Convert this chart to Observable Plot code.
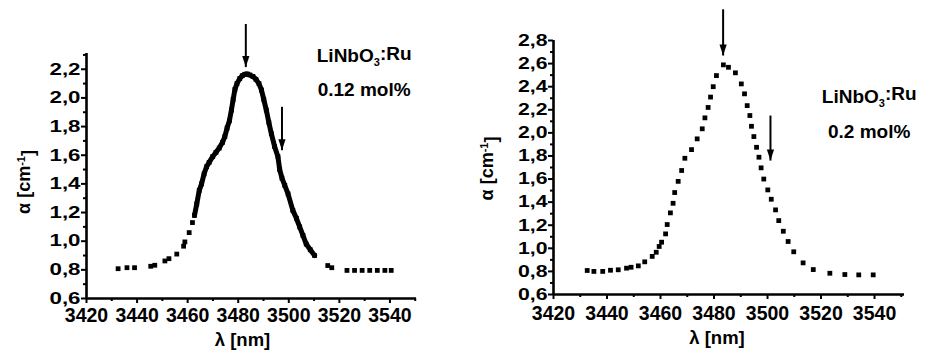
<!DOCTYPE html>
<html><head><meta charset="utf-8">
<script src="https://cdn.jsdelivr.net/npm/d3@7"></script>
<script src="https://cdn.jsdelivr.net/npm/@observablehq/plot@0.6"></script>
<style>
body{margin:0;background:#fff;}
#wrap{position:relative;width:926px;height:358px;overflow:hidden;background:#fff;}
#left{position:absolute;left:0;top:0;}
#right{position:absolute;left:463px;top:0;}
#wrap svg{overflow:visible;}
#wrap svg text{font-family:"Liberation Sans", Arial, sans-serif; font-weight:700; fill:#000;}
</style></head><body><div id="wrap"><div id="left"></div><div id="right"></div></div>
<script>
// ---------- data: left panel (0.12 mol%) ----------
const leftSparseX = [3432.5, 3436.0, 3439.0, 3445.4, 3447.0, 3451.0, 3452.6, 3455.7, 3458.4, 3458.9, 3460.6, 3461.9, 3515.4, 3517.0, 3523.0, 3526.0, 3529.0, 3532.0, 3535.0, 3538.0, 3540.5];
const leftSparseY = [0.808, 0.815, 0.815, 0.825, 0.832, 0.862, 0.878, 0.91, 0.965, 0.995, 1.06, 1.13, 0.83, 0.815, 0.796, 0.796, 0.796, 0.796, 0.796, 0.796, 0.796];
const leftTraceX = [3462.7, 3463.6, 3464.6, 3465.5, 3466.5, 3467.5, 3468.5, 3469.9, 3471.2, 3472.5, 3473.8, 3474.7, 3475.6, 3476.5, 3477.3, 3478.0, 3478.7, 3479.5, 3480.6, 3481.6, 3482.6, 3483.6, 3484.6, 3485.8, 3487.0, 3488.2, 3489.2, 3490.1, 3491.1, 3492.1, 3493.1, 3494.4, 3495.7, 3496.4, 3497.3, 3498.4, 3499.7, 3501.6, 3503.0, 3504.3, 3505.6, 3506.9, 3508.5, 3510.2];
const leftTraceY = [1.18, 1.26, 1.355, 1.40, 1.47, 1.52, 1.55, 1.59, 1.62, 1.65, 1.69, 1.73, 1.79, 1.84, 1.915, 1.99, 2.06, 2.10, 2.135, 2.155, 2.165, 2.167, 2.16, 2.15, 2.13, 2.10, 2.055, 1.99, 1.915, 1.83, 1.75, 1.66, 1.59, 1.50, 1.44, 1.39, 1.33, 1.215, 1.16, 1.10, 1.04, 0.98, 0.94, 0.90];
const leftArrowX = [3483.0, 3497.3];
const leftArrowY1 = [2.516, 1.938];
const leftArrowY2 = [2.215, 1.635];
const leftNote = ["LiNbO3:Ru", "0.12 mol%"];
const leftNoteX = [3529.8, 3529.8];
const leftNoteY = [2.29, 2.055];
const leftYTicks = [0.6, 0.8, 1.0, 1.2, 1.4, 1.6, 1.8, 2.0, 2.2];
const leftYMinor = [0.7, 0.9, 1.1, 1.3, 1.5, 1.7, 1.9, 2.1, 2.3];

// ---------- data: right panel (0.2 mol%) ----------
const rightX = [3432.6, 3435.1, 3438.4, 3441.3, 3444.2, 3447.3, 3449.0, 3451.7, 3454.1, 3456.9, 3458.4, 3459.5, 3460.4, 3461.9, 3462.5, 3463.7, 3464.7, 3465.3, 3466.6, 3467.9, 3469.1, 3471.6, 3473.7, 3475.6, 3476.6, 3477.8, 3478.7, 3479.7, 3480.9, 3483.5, 3485.4, 3488.0, 3490.2, 3491.4, 3492.4, 3493.4, 3494.0, 3494.9, 3495.9, 3496.8, 3497.6, 3498.6, 3500.1, 3501.4, 3503.0, 3504.2, 3505.9, 3507.7, 3509.8, 3513.3, 3517.1, 3523.3, 3528.9, 3534.1, 3539.5];
const rightY = [0.808, 0.80, 0.80, 0.81, 0.814, 0.828, 0.836, 0.848, 0.883, 0.93, 0.966, 1.016, 1.053, 1.125, 1.206, 1.307, 1.39, 1.483, 1.58, 1.674, 1.78, 1.855, 1.948, 2.035, 2.13, 2.22, 2.31, 2.40, 2.496, 2.589, 2.568, 2.52, 2.424, 2.338, 2.236, 2.15, 2.057, 1.968, 1.875, 1.789, 1.697, 1.60, 1.506, 1.425, 1.333, 1.24, 1.148, 1.059, 0.97, 0.874, 0.816, 0.784, 0.773, 0.77, 0.77];
const rightArrowX = [3483.4, 3501.1];
const rightArrowY1 = [3.07, 2.15];
const rightArrowY2 = [2.67, 1.76];
const rightNote = ["LiNbO3:Ru", "0.2 mol%"];
const rightNoteX = [3538, 3538];
const rightNoteY = [2.31, 2.01];
const rightYTicks = [0.6, 0.8, 1.0, 1.2, 1.4, 1.6, 1.8, 2.0, 2.2, 2.4, 2.6, 2.8];
const rightYMinor = [0.7, 0.9, 1.1, 1.3, 1.5, 1.7, 1.9, 2.1, 2.3, 2.5, 2.7];

// ---------- shared axis labels ----------
const xTicks = [3420, 3440, 3460, 3480, 3500, 3520, 3540];
const xMinor = [3430, 3450, 3470, 3490, 3510, 3530, 3550];
const xLabel = "λ [nm]";
const yLabel = "α [cm-1]";

const zip = (xs, ys) => xs.map((x, i) => ({x, y: ys[i]}));
const arrowHead = {draw(ctx) { ctx.moveTo(0, 0); ctx.lineTo(-3.6, -11); ctx.lineTo(3.6, -11); ctx.closePath(); }};
const commaFmt = d => d.toFixed(1).replace(".", ",");

function panel(cfg) {
  const arrows = cfg.arrowX.map((x, i) => ({x, y1: cfg.arrowY1[i], y2: cfg.arrowY2[i]}));
  const notes = cfg.note.map((t, i) => ({t, x: cfg.noteX[i], y: cfg.noteY[i]}));
  const marks = [
    Plot.axisX({ticks: xMinor, tickSize: 3, strokeWidth: 2, tickFormat: () => "", label: null}),
    Plot.axisX({ticks: xTicks, tickSize: 5, strokeWidth: 2, tickPadding: cfg.xPad, tickFormat: d => String(d), label: null, fontSize: 19.5}),
    Plot.axisY({ticks: cfg.yMinor, tickSize: 3, strokeWidth: 2, tickFormat: () => "", label: null}),
    Plot.axisY({ticks: cfg.yTicks, tickSize: 5, strokeWidth: 2, tickPadding: 1, tickFormat: commaFmt, label: null, fontSize: 16.5}),
    Plot.ruleX([cfg.xDomain[0]], {strokeWidth: 2.6}),
    Plot.ruleY([cfg.yDomain[0]], {strokeWidth: 2.6}),
  ];
  if (cfg.traceX) {
    marks.push(Plot.line(zip(cfg.traceX, cfg.traceY), {x: "x", y: "y", strokeWidth: 5, stroke: "black", strokeLinejoin: "round"}));
    marks.push(Plot.dot(zip(cfg.traceX, cfg.traceY), {x: "x", y: "y", symbol: "square", r: 2.7, fill: "black"}));
  }
  marks.push(Plot.dot(zip(cfg.dotX, cfg.dotY), {x: "x", y: "y", symbol: "square", r: 2.7, fill: "black"}));
  marks.push(Plot.link(arrows, {x1: "x", x2: "x", y1: "y1", y2: "y2", strokeWidth: 2, stroke: "black"}));
  marks.push(Plot.dot(arrows, {x: "x", y: "y2", symbol: arrowHead, r: 4, fill: "black"}));
  marks.push(Plot.text(notes, {x: "x", y: "y", text: "t", fontSize: 19}));
  marks.push(Plot.text([xLabel], {frameAnchor: "bottom", textAnchor: "middle", dx: cfg.xLabelDx, dy: cfg.xLabelDy, fontSize: 18.5}));
  marks.push(Plot.text([yLabel], {frameAnchor: "left", textAnchor: "middle", rotate: -90, dx: cfg.yLabelDx, dy: cfg.yLabelDy, fontSize: 18}));

  const svg = Plot.plot({
    width: 463, height: 358,
    marginLeft: cfg.mL, marginRight: cfg.mR, marginTop: cfg.mT, marginBottom: cfg.mB,
    x: {domain: cfg.xDomain},
    y: {domain: cfg.yDomain},
    style: {background: "white", color: "black", overflow: "visible"},
    marks
  });
  richText(svg, cfg.yTickWidth);
  return svg;
}

const NS = "http://www.w3.org/2000/svg";
function tspan(text, attrs) {
  const t = document.createElementNS(NS, "tspan");
  for (const k in attrs) t.setAttribute(k, attrs[k]);
  t.textContent = text;
  return t;
}
function richText(svg, yTickWidth) {
  svg.querySelectorAll("text").forEach(el => {
    const t = el.textContent;
    if (t === "LiNbO3:Ru") {
      el.textContent = "";
      el.append(document.createTextNode("LiNbO"), tspan("3", {dy: "0.35em", "font-size": "11"}), tspan(":Ru", {dy: "-0.35em"}));
    } else if (t === "α [cm-1]") {
      el.textContent = "";
      el.append(document.createTextNode("α [cm"), tspan("-1", {dy: "-0.5em", "font-size": "11"}), tspan("]", {dy: "0.5em"}));
    } else if (/^\d,\d$/.test(t)) {
      el.setAttribute("textLength", yTickWidth);
      el.setAttribute("lengthAdjust", "spacingAndGlyphs");
    }
  });
}

document.getElementById("left").append(panel({
  xDomain: [3420, 3550.5], yDomain: [0.6, 2.31],
  mL: 86, mR: 47, mT: 53, mB: 60, xPad: 4.5,
  yTicks: leftYTicks, yMinor: leftYMinor, yTickWidth: 31,
  dotX: leftSparseX, dotY: leftSparseY, traceX: leftTraceX, traceY: leftTraceY,
  arrowX: leftArrowX, arrowY1: leftArrowY1, arrowY2: leftArrowY2,
  note: leftNote, noteX: leftNoteX, noteY: leftNoteY,
  xLabelDx: -9, xLabelDy: 47, yLabelDx: -62, yLabelDy: 6
}));
document.getElementById("right").append(panel({
  xDomain: [3420, 3551.2], yDomain: [0.6, 2.8],
  mL: 90, mR: 22, mT: 40, mB: 64, xPad: 7,
  yTicks: rightYTicks, yMinor: rightYMinor, yTickWidth: 29.5,
  dotX: rightX, dotY: rightY,
  arrowX: rightArrowX, arrowY1: rightArrowY1, arrowY2: rightArrowY2,
  note: rightNote, noteX: rightNoteX, noteY: rightNoteY,
  xLabelDx: -12, xLabelDy: 49, yLabelDx: -66, yLabelDy: 1
}));
</script>
</body></html>
